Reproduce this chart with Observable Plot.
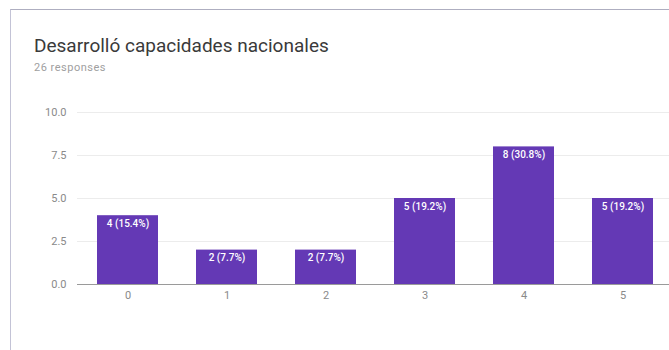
<!DOCTYPE html>
<html>
<head>
<meta charset="utf-8">
<script src="https://cdn.jsdelivr.net/npm/d3@7"></script>
<script src="https://cdn.jsdelivr.net/npm/@observablehq/plot@0.6"></script>
<style>
  html, body { margin: 0; padding: 0; background: #ffffff; }
  body { width: 669px; height: 350px; overflow: hidden; position: relative; font-family: Roboto, "Noto Sans", sans-serif; }
  #card { position: absolute; left: 10px; top: 9px; width: 700px; height: 400px;
          border-left: 1px solid #c3c3d6; border-top: 1px solid #aeaec0; background: #ffffff; }
  #title { position: absolute; left: 34px; top: 35.5px; font-size: 19px; color: #3a3a3a; line-height: 20px; white-space: nowrap; }
  #subtitle { position: absolute; left: 34px; top: 62px; font-size: 11px; letter-spacing: 0.5px; color: #a0a0a0; line-height: 12px; white-space: nowrap; }
  #chart { position: absolute; left: 0; top: 90px; }
</style>
</head>
<body>
<div id="card"></div>
<div id="title">Desarrolló capacidades nacionales</div>
<div id="subtitle">26 responses</div>
<div id="chart"></div>
<script>
const categories = ["0", "1", "2", "3", "4", "5"];
const counts = [4, 2, 2, 5, 8, 5];
const percentLabels = ["15.4%", "7.7%", "7.7%", "19.2%", "30.8%", "19.2%"];
const yTicks = [0, 2.5, 5, 7.5, 10];

const data = categories.map((c, i) => ({
  category: c,
  count: counts[i],
  label: `${counts[i]} (${percentLabels[i]})`
}));

const chart = Plot.plot({
  width: 669,
  height: 260,
  marginLeft: 77,
  marginRight: 0,
  marginTop: 22,
  marginBottom: 66,
  style: { fontFamily: "Roboto, sans-serif", background: "transparent", overflow: "visible" },
  x: { domain: categories, range: [77, 673.5], paddingInner: 0.385, paddingOuter: 0.1925, align: 0.5, label: null },
  y: { domain: [0, 10], label: null },
  marks: [
    Plot.ruleY(yTicks.filter(d => d > 0), { stroke: "#ececec", strokeWidth: 1 }),
    Plot.barY(data, { x: "category", y: "count", fill: "#6439b5" }),
    Plot.text(data, { x: "category", y: "count", text: "label", dy: 8, fill: "#ffffff", fontSize: 10, fontWeight: 500 }),
    Plot.ruleY([0], { stroke: "#9a9a9a", strokeWidth: 1.2 }),
    Plot.axisY({ ticks: yTicks, tickFormat: d3.format(".1f"), tickSize: 0, tickPadding: 11, fontSize: 11, color: "#8a8a8a", label: null }),
    Plot.axisX({ tickSize: 0, tickPadding: 7, fontSize: 11, color: "#8a8a8a", label: null })
  ]
});
document.getElementById("chart").appendChild(chart);
</script>
</body>
</html>
